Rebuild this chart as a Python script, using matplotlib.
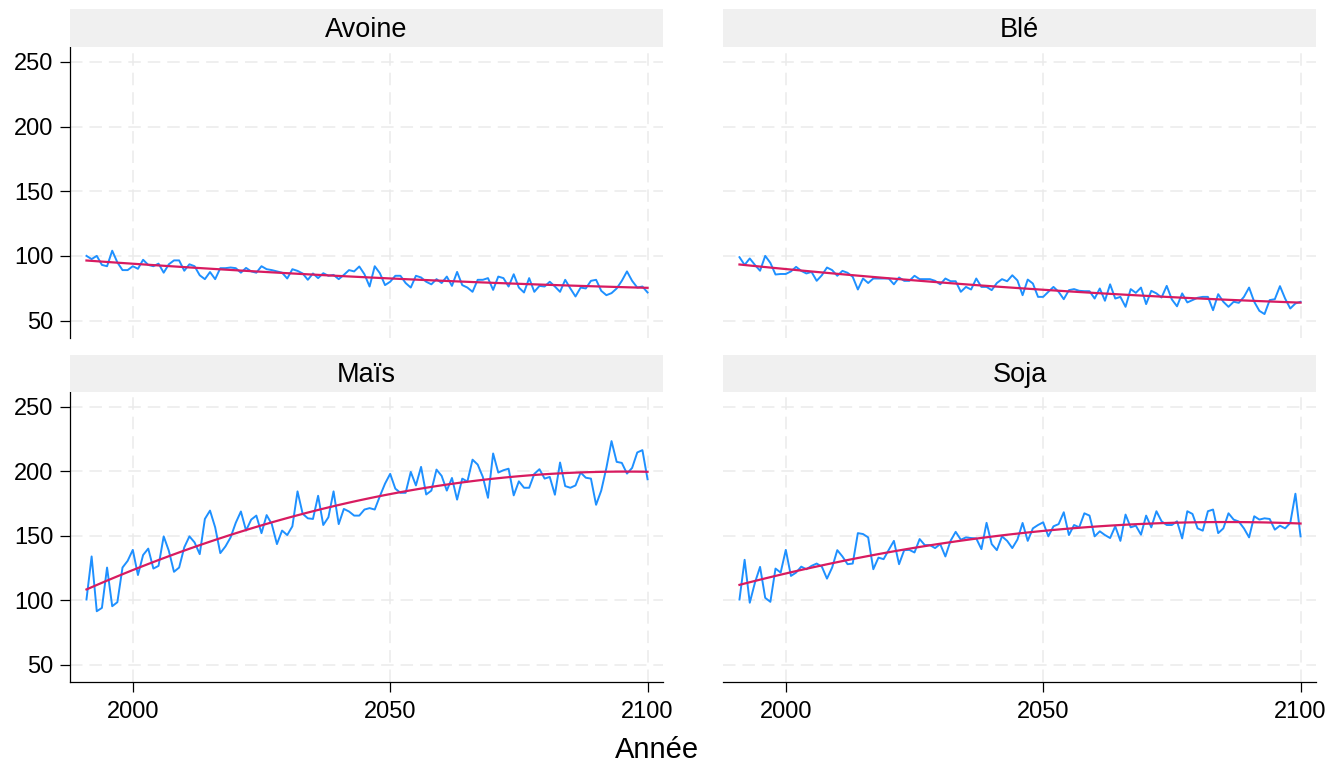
import matplotlib.pyplot as plt
import numpy as np

plt.rcParams['font.family'] = ['Liberation Sans', 'DejaVu Sans']
plt.rcParams['lines.scale_dashes'] = False

annees = np.arange(1991, 2101)

avoine = [100, 97.5, 100, 93, 92, 104, 95, 89, 89, 92,
          90, 97, 93, 92, 94, 87, 93.5, 96.5, 96.5, 88.5,
          93.5, 92, 85, 82, 87.5, 82, 90.5, 90.5, 91, 90.5,
          87, 90.7, 88, 87, 92, 89.7, 89, 88, 87, 82.5,
          89.7, 88.4, 86.4, 81.5, 86.4, 82.8, 86.6, 84.6, 85.3, 82,
          85.3, 89, 88, 91.8, 85.8, 76.3, 92, 86.6, 77.4, 80,
          84.6, 84.6, 79, 75.5, 84.6, 83.3, 80, 78, 82, 79,
          84, 76.8, 87.6, 77.4, 75.5, 72.2, 81.5, 81.5, 82.8, 73.7,
          84, 82.8, 76.3, 85.8, 75.5, 71.7, 82.8, 72.2, 76.8, 76.3,
          80, 76.3, 72.2, 81.5, 74.8, 68.6, 75.5, 74.8, 80.7, 81.5,
          73, 69.6, 71.2, 74.8, 80.7, 88, 80.7, 75.5, 76.3, 71.7]

ble = [99, 93, 98, 93, 88.5, 100, 94.6, 85.6, 86, 86,
       88, 91.5, 88.4, 86.4, 87.6, 80.7, 85, 91, 89, 84.6,
       88.4, 86.9, 83.8, 74, 82.5, 79, 82.5, 82.5, 82.5, 82.5,
       78, 83.3, 80.7, 80.7, 84.6, 82, 82, 82, 80.7, 78,
       82.5, 80.4, 80.4, 72.2, 76, 74, 82.5, 76, 76, 73.5,
       79, 82, 80.4, 85, 81, 69.6, 81.7, 78.6, 68.3, 68.3,
       72.2, 76, 72.2, 66.5, 73.5, 74.3, 73, 72.7, 72.7, 67,
       74.8, 65.3, 78, 67, 68.3, 60.6, 74.3, 71.4, 75.5, 62.7,
       73, 71, 67.8, 76.8, 66.3, 61, 71, 64, 65.8, 67.6,
       68.3, 68.3, 58, 70.4, 64.5, 60.6, 64.5, 63.7, 68.3, 75.5,
       64.5, 57.5, 55, 65.8, 66.5, 76.6, 67, 59.3, 63.2, 64.5]

mais = [100.5, 133.9, 91.4, 94, 125.3, 95.3, 98.4, 125.3, 130.5, 139,
        119.5, 135, 140, 124.5, 126.6, 149.5, 138.3, 122, 125.3, 141,
        149.5, 144.8, 135.7, 163, 169.5, 156.5, 136.5, 141.7, 148.7, 160,
        168.8, 154, 162.5, 165.6, 152, 166, 159, 143.5, 154, 150.5,
        157.3, 184.4, 167, 163.5, 163, 181, 158.3, 164.3, 184.4, 159,
        170.8, 168.8, 165.6, 165.6, 170.3, 171.4, 170.3, 180.7, 190.4, 198,
        186.5, 183.3, 183.3, 199.5, 189, 203.4, 182, 185, 201.3, 196.4,
        185, 194.8, 178, 194.3, 192, 209, 205.2, 195.6, 179.4, 213.8,
        199, 200.8, 202, 181.3, 192.2, 187.2, 187.2, 198, 201.6, 194.3,
        195.6, 181.8, 206.8, 188.5, 187.2, 189, 199, 195, 194.3, 174,
        185, 202.6, 223.4, 207.3, 206.5, 198.2, 202.6, 214.6, 216.4, 193.8]

soja = [100.5, 131.3, 98, 113.5, 125.8, 101.8, 98.7, 124.5, 121.4, 139,
        118.8, 121.4, 126, 124, 126.6, 128.4, 126, 116.7, 125.3, 138.8,
        133.9, 127.9, 128.4, 152, 151.3, 148.7, 124, 133, 131.8, 139,
        146, 127.9, 138.8, 139, 137, 147.4, 142.7, 142.7, 140.4, 143.5,
        133.9, 146, 153, 146.9, 148.7, 148.2, 147.9, 139.6, 160, 143.5,
        138.8, 149.5, 146, 140.4, 147, 159.9, 146, 155.7, 158.3, 160.4,
        149.5, 157.3, 159, 168.2, 150.5, 158.3, 156.5, 167.4, 165.6, 149.5,
        153.4, 150.5, 148.2, 157.3, 146, 166.4, 156.5, 157.8, 150.8, 165.6,
        156.5, 169, 161.2, 158.3, 158.3, 161.2, 147.9, 169, 166.9, 155.7,
        153.9, 169, 170.3, 152, 155.7, 167.4, 162.5, 161, 155.7, 148.7,
        165.1, 162.5, 163.5, 163, 154.7, 157.8, 155.7, 159.9, 182.6, 149.5]

cultures = ['Avoine', 'Blé', 'Maïs', 'Soja']
series = [avoine, ble, mais, soja]
xticks = [2000, 2050, 2100]
yticks = [50, 100, 150, 200, 250]

W, H = 1331, 763
fig = plt.figure(figsize=(W / 100, H / 100), dpi=100)

# pixel boxes: (x0, x1) columns, (plot top, plot bottom, strip top) rows
cols = [(70, 663), (723, 1316)]
rows = [(47, 338, 9), (392, 682, 355)]

grid_kw = dict(color='#EBEBEB', lw=1.1, dashes=(9, 5), zorder=0)

for i, (nom, vals) in enumerate(zip(cultures, series)):
    r, c = divmod(i, 2)
    x0, x1 = cols[c]
    top, bot, stop = rows[r]
    ax = fig.add_axes([x0 / W, 1 - bot / H, (x1 - x0) / W, (bot - top) / H])
    st = fig.add_axes([x0 / W, 1 - top / H, (x1 - x0) / W, (top - stop) / H])
    st.set_facecolor('#F0F0F0')
    st.set_xticks([])
    st.set_yticks([])
    for s in st.spines.values():
        s.set_visible(False)
    st.text(0.5, 0.26, nom, ha='center', va='baseline', fontsize=19.5,
            transform=st.transAxes)

    vals = np.array(vals)
    coef = np.polyfit(annees, vals, 2)
    tendance = np.polyval(coef, annees)

    for yt in yticks:
        ax.axhline(yt, **grid_kw)
    for xt in xticks:
        ax.axvline(xt, **grid_kw)
    ax.plot(annees, vals, color='#1E90FF', lw=1.4, zorder=2)
    ax.plot(annees, tendance, color='#D81B60', lw=1.6, zorder=3)

    ax.set_xlim(1987.8, 2103.0)
    ax.set_ylim(36.5, 261.5)
    ax.set_xticks(xticks)
    ax.set_yticks(yticks)
    for s in ax.spines.values():
        s.set_visible(False)
    ax.tick_params(length=7, width=0.9, labelsize=17, color='black')
    ax.tick_params(axis='x', pad=7)
    ax.tick_params(axis='y', pad=5)
    if c == 0:
        ax.spines['left'].set_visible(True)
        ax.spines['left'].set_linewidth(0.9)
    else:
        ax.tick_params(axis='y', left=False, labelleft=False)
    if r == 1:
        ax.spines['bottom'].set_visible(True)
        ax.spines['bottom'].set_linewidth(0.9)
    else:
        ax.tick_params(axis='x', bottom=False, labelbottom=False)

fig.text(657 / W, 1 - 750 / H, 'Année', ha='center', va='center', fontsize=21)

fig.savefig('out.png', dpi=100)
